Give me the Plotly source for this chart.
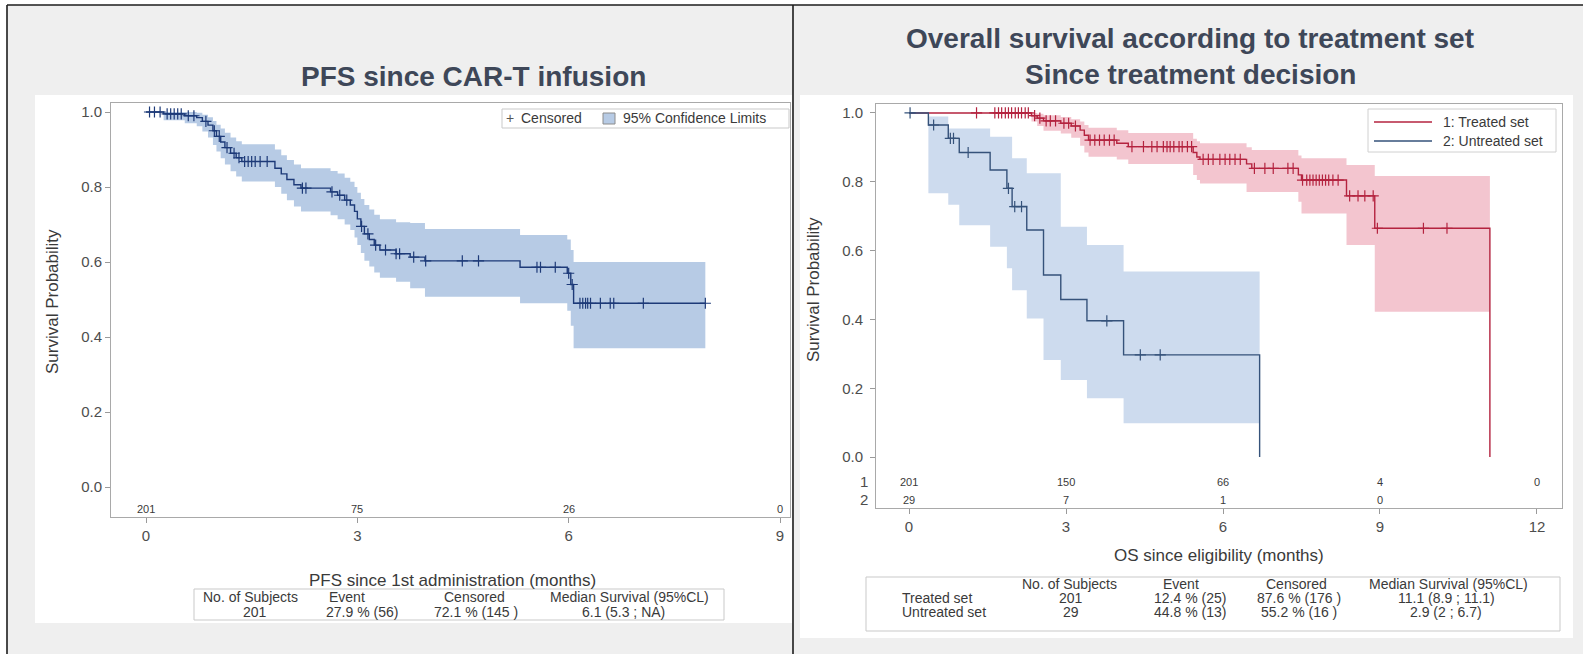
import numpy as np
import plotly.graph_objects as go

W, H = 1583, 654

# ---------------- PFS since CAR-T infusion ----------------
pfs_time = [0.00, 0.25, 0.55, 0.72, 0.80, 0.88, 0.95, 1.00, 1.06, 1.12, 1.20, 1.28, 1.36,
            1.83, 1.92, 2.00, 2.10, 2.20, 2.62, 2.72, 2.82, 2.90, 2.96, 3.00, 3.05, 3.10,
            3.17, 3.24, 3.32, 3.55, 3.75, 3.96, 5.31, 5.98, 6.03, 6.07, 7.94]
pfs_surv = [1.000, 0.995, 0.990, 0.985, 0.975, 0.965, 0.950, 0.935, 0.920, 0.905, 0.890, 0.878, 0.868,
            0.850, 0.835, 0.820, 0.806, 0.797, 0.787, 0.778, 0.765, 0.752, 0.735, 0.715, 0.695, 0.675,
            0.660, 0.645, 0.632, 0.622, 0.613, 0.603, 0.586, 0.570, 0.540, 0.490, 0.490]
pfs_lcl = [1.000, 0.978, 0.970, 0.962, 0.948, 0.932, 0.912, 0.895, 0.877, 0.860, 0.842, 0.828, 0.815,
           0.800, 0.782, 0.765, 0.748, 0.735, 0.725, 0.714, 0.700, 0.685, 0.665, 0.645, 0.624, 0.603,
           0.588, 0.572, 0.558, 0.547, 0.530, 0.507, 0.490, 0.470, 0.430, 0.370, 0.370]
pfs_ucl = [1.000, 1.000, 1.000, 0.998, 0.993, 0.986, 0.976, 0.966, 0.956, 0.945, 0.932, 0.922, 0.914,
           0.900, 0.885, 0.872, 0.860, 0.850, 0.843, 0.836, 0.825, 0.814, 0.800, 0.785, 0.768, 0.752,
           0.740, 0.726, 0.714, 0.706, 0.704, 0.688, 0.672, 0.660, 0.632, 0.600, 0.600]
pfs_censor = [0.05, 0.12, 0.20, 0.30, 0.35, 0.40, 0.45, 0.50, 0.60, 0.68, 0.85, 0.97, 1.04, 1.15,
              1.25, 1.32, 1.40, 1.45, 1.50, 1.55, 1.62, 1.72, 2.22, 2.27, 2.64, 2.75, 2.85, 3.06,
              3.15, 3.26, 3.40, 3.55, 3.60, 3.80, 3.97, 4.49, 4.72, 5.55, 5.60, 5.81, 6.00, 6.05,
              6.16, 6.20, 6.24, 6.27, 6.31, 6.45, 6.59, 6.64, 7.06, 7.94]
pfs_risk_time = [0, 3, 6, 9]
pfs_at_risk = [201, 75, 26, 0]

# ---------------- Overall survival by treatment set ----------------
trt_time = [0.00, 2.34, 2.45, 2.57, 2.90, 3.10, 3.27, 3.35, 3.43, 3.97, 4.19, 5.43, 5.50, 5.56,
            6.45, 6.55, 7.44, 7.50, 8.36, 8.90, 11.10]
trt_surv = [1.000, 0.992, 0.985, 0.977, 0.970, 0.962, 0.950, 0.935, 0.921, 0.912, 0.902, 0.885,
            0.872, 0.865, 0.852, 0.839, 0.820, 0.805, 0.759, 0.665, 0.000]
trt_lcl = [1.000, 0.975, 0.962, 0.948, 0.940, 0.928, 0.905, 0.885, 0.873, 0.865, 0.852, 0.820,
           0.805, 0.795, 0.770, 0.770, 0.742, 0.708, 0.616, 0.422, 0.422]
trt_ucl = [1.000, 1.000, 0.998, 0.993, 0.988, 0.982, 0.975, 0.965, 0.957, 0.950, 0.942, 0.925,
           0.918, 0.912, 0.900, 0.892, 0.876, 0.868, 0.849, 0.817, 0.817]
trt_censor = [1.29, 1.64, 1.71, 1.77, 1.84, 1.90, 1.96, 2.03, 2.09, 2.15, 2.22, 2.28, 2.40, 2.50,
              2.62, 2.70, 2.80, 2.96, 3.05, 3.18, 3.46, 3.55, 3.64, 3.73, 3.83, 3.92, 4.26, 4.48,
              4.64, 4.74, 4.86, 4.93, 4.99, 5.06, 5.16, 5.22, 5.32, 5.40, 5.62, 5.72, 5.81, 5.94,
              6.04, 6.13, 6.23, 6.33, 6.60, 6.80, 6.96, 7.24, 7.34, 7.52, 7.60, 7.66, 7.72, 7.78,
              7.84, 7.90, 7.96, 8.02, 8.10, 8.20, 8.42, 8.58, 8.71, 8.87, 8.95, 9.83, 10.28]

unt_time = [0.00, 0.37, 0.75, 0.96, 1.55, 1.87, 1.97, 2.25, 2.57, 2.90, 3.40, 4.10, 6.70]
unt_surv = [1.000, 0.965, 0.926, 0.885, 0.834, 0.781, 0.728, 0.660, 0.529, 0.458, 0.396, 0.297, 0.000]
unt_lcl = [1.000, 0.767, 0.733, 0.674, 0.611, 0.549, 0.485, 0.403, 0.282, 0.224, 0.171, 0.098, 0.098]
unt_ucl = [1.000, 0.990, 0.955, 0.955, 0.931, 0.931, 0.868, 0.825, 0.825, 0.669, 0.616, 0.539, 0.539]
unt_censor = [0.02, 0.47, 0.79, 0.85, 1.13, 1.90, 2.02, 2.15, 3.78, 4.42, 4.80]

os_risk_time = [0, 3, 6, 9, 12]
trt_at_risk = [201, 150, 66, 4, 0]
unt_at_risk = [29, 7, 1, 0]

pfs_table_header = ["No. of Subjects", "Event", "Censored", "Median Survival (95%CL)"]
pfs_table_row = ["201", "27.9 % (56)", "72.1 % (145 )", "6.1 (5.3 ; NA)"]
os_table_header = ["No. of Subjects", "Event", "Censored", "Median Survival (95%CL)"]
os_table_rows = [
    ["Treated set", "201", "12.4 % (25)", "87.6 % (176 )", "11.1 (8.9 ; 11.1)"],
    ["Untreated set", "29", "44.8 % (13)", "55.2 % (16 )", "2.9 (2 ; 6.7)"],
]

# ---------------- styling ----------------
FONT = "Liberation Sans, Arial, sans-serif"
TITLE_COLOR = "#3e4758"
TEXT = "#3a3a3a"
TICK = "#4d4d4d"
PFS_LINE, PFS_BAND = "#1d3a78", "#b7cbe5"
TRT_LINE, TRT_BAND = "#b4233f", "#f3c5cf"
UNT_LINE, UNT_BAND = "#35527a", "#cddbee"


def px(x):
    return x / W


def py(y):
    return 1 - y / H


def step_at(times, surv, t):
    i = np.searchsorted(np.asarray(times), t, side="right") - 1
    return float(np.asarray(surv)[max(i, 0)])


fig = go.Figure()


def add_km(xa, ya, time, surv, lcl, ucl, censor, line_color, band_color):
    fig.add_trace(go.Scatter(x=time, y=lcl, mode="lines", line=dict(width=0, shape="hv"),
                             xaxis=xa, yaxis=ya, hoverinfo="skip", showlegend=False))
    fig.add_trace(go.Scatter(x=time, y=ucl, mode="lines", line=dict(width=0, shape="hv"),
                             fill="tonexty", fillcolor=band_color,
                             xaxis=xa, yaxis=ya, hoverinfo="skip", showlegend=False))
    fig.add_trace(go.Scatter(x=time, y=surv, mode="lines", line=dict(color=line_color, width=1.4, shape="hv"),
                             xaxis=xa, yaxis=ya, showlegend=False))
    cy = [step_at(time, surv, t) for t in censor]
    fig.add_trace(go.Scatter(x=censor, y=cy, mode="markers",
                             marker=dict(symbol="cross-thin", size=8, line=dict(width=1.2, color=line_color)),
                             xaxis=xa, yaxis=ya, showlegend=False))


add_km("x", "y", pfs_time, pfs_surv, pfs_lcl, pfs_ucl, pfs_censor, PFS_LINE, PFS_BAND)
add_km("x2", "y2", trt_time, trt_surv, trt_lcl, trt_ucl, trt_censor, TRT_LINE, TRT_BAND)
add_km("x2", "y2", unt_time, unt_surv, unt_lcl, unt_ucl, unt_censor, UNT_LINE, UNT_BAND)

# plot areas in pixels: (left, top, right, bottom)
L_BOX = (111, 103, 790, 517)
R_BOX = (876, 104, 1562, 508)

axis_common = dict(showgrid=False, zeroline=False, showline=True, linecolor="#a9a9a9", linewidth=1,
                   mirror=True, ticks="outside", ticklen=5, tickcolor="#9a9a9a",
                   tickfont=dict(family=FONT, size=15, color=TICK))

fig.update_layout(
    width=W, height=H, margin=dict(l=0, r=0, t=0, b=0),
    paper_bgcolor="white", plot_bgcolor="rgba(0,0,0,0)",
    font=dict(family=FONT, color=TEXT),
    xaxis=dict(domain=[px(L_BOX[0]), px(L_BOX[2])], range=[-0.497, 9.142],
               tickvals=[0, 3, 6, 9], **axis_common),
    yaxis=dict(domain=[py(L_BOX[3]), py(L_BOX[1])], range=[-0.08, 1.024],
               tickvals=[0, 0.2, 0.4, 0.6, 0.8, 1.0], tickformat=".1f", **axis_common),
    xaxis2=dict(domain=[px(R_BOX[0]), px(R_BOX[2])], range=[-0.631, 12.478],
                tickvals=[0, 3, 6, 9, 12], anchor="y2", **axis_common),
    yaxis2=dict(domain=[py(R_BOX[3]), py(R_BOX[1])], range=[-0.148, 1.026],
                tickvals=[0, 0.2, 0.4, 0.6, 0.8, 1.0], tickformat=".1f", anchor="x2",
                ticklabelstandoff=4, **axis_common),
)

shapes = []


def rect(x0, y0, x1, y1, fill=None, line=None, width=1, layer="below"):
    shapes.append(dict(type="rect", xref="paper", yref="paper", x0=px(x0), x1=px(x1), y0=py(y1), y1=py(y0),
                       fillcolor=fill if fill else "rgba(0,0,0,0)",
                       line=dict(color=line if line else "rgba(0,0,0,0)", width=width if line else 0),
                       layer=layer))


def seg(x0, y0, x1, y1, color, width, layer="above"):
    shapes.append(dict(type="line", xref="paper", yref="paper", x0=px(x0), x1=px(x1), y0=py(y0), y1=py(y1),
                       line=dict(color=color, width=width), layer=layer))


# panel backgrounds
rect(7, 5, W, H, fill="#efefef")
rect(35, 95, 792, 623, fill="white")
rect(800, 95, 1573, 638, fill="white")

# legend (PFS)
rect(502, 109, 789, 128, fill="white", line="#c9c9c9", layer="above")
rect(603, 113, 615, 124, fill=PFS_BAND, line="#8c8c8c", layer="above")
# legend (OS)
rect(1368, 109, 1556, 152, fill="white", line="#d0d0d0", layer="above")
seg(1374, 122, 1432, 122, TRT_LINE, 1.3)
seg(1374, 141, 1432, 141, UNT_LINE, 1.3)

# summary tables
rect(194, 589, 724, 620, line="#c9c9c9", layer="above")
rect(866, 577, 1560, 631, line="#c9c9c9", layer="above")

# panel frame
seg(7, 5, 7, H, "#1c1c1c", 1.6)
seg(7, 5, W, 5, "#1c1c1c", 1.6)
seg(793, 5, 793, H, "#1c1c1c", 1.6)

fig.update_layout(shapes=shapes)

ann = []


def text(x, y, s, size=12, color=TEXT, xanchor="center", bold=False, angle=0, xref="paper", yref="paper"):
    ann.append(dict(x=px(x) if xref == "paper" else x, y=py(y) if yref == "paper" else y,
                    xref=xref, yref=yref, text=f"<b>{s}</b>" if bold else s, showarrow=False,
                    xanchor=xanchor, yanchor="middle", textangle=angle,
                    font=dict(family=FONT, size=size, color=color)))


# titles
text(473, 76, "PFS since CAR-T infusion", size=28, color=TITLE_COLOR, bold=True)
text(1190, 38, "Overall survival according to treatment set", size=28, color=TITLE_COLOR, bold=True)
text(1190, 74, "Since treatment decision", size=28, color=TITLE_COLOR, bold=True)

# axis titles
text(52, 302, "Survival Probability", size=17, angle=-90)
text(814, 290, "Survival Probability", size=17, angle=-90)
text(452, 580, "PFS since 1st administration (months)", size=17)
text(1219, 555, "OS since eligibility (months)", size=17)

# number at risk
for t, n in zip(pfs_risk_time, pfs_at_risk):
    text(t, -0.058, str(n), size=11, xref="x", yref="y")
for t, n in zip(os_risk_time, trt_at_risk):
    text(t, -0.072, str(n), size=11, xref="x2", yref="y2")
for t, n in zip(os_risk_time, unt_at_risk):
    text(t, -0.125, str(n), size=11, xref="x2", yref="y2")
text(870, 481, "1", size=15, color=TICK, xanchor="right")
text(870, 499, "2", size=15, color=TICK, xanchor="right")

# legends
text(510, 118, "+", size=14, color="#555")
text(519, 118.5, "Censored", size=14, xanchor="left")
text(621, 118.5, "95% Confidence Limits", size=14, xanchor="left")
text(1441, 122, "1: Treated set", size=14, xanchor="left")
text(1441, 141, "2: Untreated set", size=14, xanchor="left")

# tables
pfs_head_cols = [250, 347, 474, 629]
pfs_val_cols = [255, 362, 476, 623]
for cx, h in zip(pfs_head_cols, pfs_table_header):
    text(cx, 597, h, size=14)
for cx, v in zip(pfs_val_cols, pfs_table_row):
    text(cx, 612, v, size=14)

os_head_cols = [1069, 1181, 1296, 1448]
os_val_cols = [1071, 1190, 1299, 1446]
for cx, h in zip(os_head_cols, os_table_header):
    text(cx, 584, h, size=14)
for ry, row in zip([598, 612], os_table_rows):
    text(900, ry, row[0], size=14, xanchor="left")
    for cx, v in zip(os_val_cols, row[1:]):
        text(cx, ry, v, size=14)

fig.update_layout(annotations=ann)

fig.write_html("out.html")
